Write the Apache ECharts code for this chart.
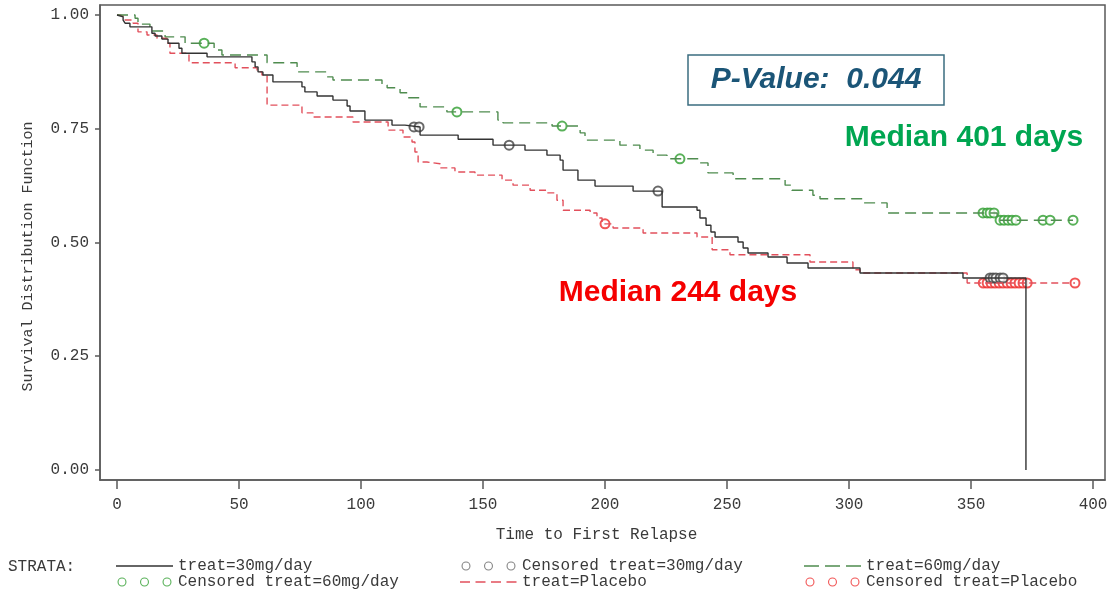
<!DOCTYPE html>
<html>
<head>
<meta charset="utf-8">
<title>Time to First Relapse</title>
<script src="https://cdn.jsdelivr.net/npm/echarts@6/dist/echarts.min.js"></script>
<style>
  html, body { margin: 0; padding: 0; background: #fff; }
  #chart { width: 1112px; height: 596px; }
</style>
</head>
<body>
<div id="chart"></div>
<script>
// tick labels
const xTicks = [0, 50, 100, 150, 200, 250, 300, 350, 400]
const yTicks = [0, 0.25, 0.5, 0.75, 1]

// treat=30mg/day (Kaplan-Meier steps)
const t30 = [0, 0.8, 2.5, 3.3, 5.3, 14.3, 15.6, 18.4, 20.9, 25.4, 26.6, 36.9, 55.3, 56.6, 57.8, 59.8, 63.9, 75.8, 77.0, 82.0,
  88.5, 94.3, 95.5, 101.6, 112.7, 118.0, 124.2, 139.8, 154.1, 167.2, 176.2, 181.6, 182.8, 188.9, 195.9, 211.5, 223.4, 237.7, 238.9, 241.4,
  243.4, 245.1, 254.5, 256.6, 258.6, 266.8, 274.6, 283.2, 304.5, 346.7, 372.5]
const s30 = [1.0, 0.996, 0.989, 0.982, 0.974, 0.960, 0.954, 0.947, 0.938, 0.927, 0.916, 0.908, 0.897, 0.886, 0.875, 0.868, 0.853, 0.842, 0.831, 0.822,
  0.813, 0.800, 0.789, 0.769, 0.758, 0.754, 0.736, 0.727, 0.714, 0.703, 0.692, 0.681, 0.659, 0.637, 0.624, 0.613, 0.578, 0.571, 0.554, 0.538,
  0.523, 0.512, 0.501, 0.488, 0.477, 0.468, 0.455, 0.444, 0.433, 0.422, 0]
const c30T = [121.7, 123.8, 160.7, 221.7, 357.8, 359.0, 360.2, 361.9, 363.1]
const c30S = [0.754, 0.754, 0.714, 0.613, 0.422, 0.422, 0.422, 0.422, 0.422]

// treat=60mg/day
const t60 = [0, 7.4, 8.6, 13.5, 19.7, 27.9, 39.8, 43.0, 61.5, 73.8, 86.1, 88.5, 108.6, 110.7, 116.0, 119.3, 124.2, 135.2, 156.1, 158.2,
  178.3, 189.8, 191.8, 206.1, 214.3, 219.7, 225.4, 238.9, 242.2, 252.5, 273.8, 276.6, 285.2, 288.1, 305.7, 315.6, 360.7, 391.8]
const s60 = [1.0, 0.993, 0.980, 0.965, 0.952, 0.938, 0.923, 0.912, 0.895, 0.875, 0.864, 0.857, 0.846, 0.840, 0.829, 0.818, 0.798, 0.787, 0.769, 0.763,
  0.756, 0.741, 0.725, 0.714, 0.703, 0.692, 0.684, 0.675, 0.653, 0.640, 0.626, 0.615, 0.604, 0.596, 0.587, 0.565, 0.549, 0.549]
const c60T = [35.7, 139.3, 182.4, 230.7, 354.9, 356.6, 357.8, 359.4, 361.9, 363.5, 365.2, 366.8, 368.4, 379.5, 382.4, 391.8]
const c60S = [0.938, 0.787, 0.756, 0.684, 0.565, 0.565, 0.565, 0.565, 0.549, 0.549, 0.549, 0.549, 0.549, 0.549, 0.549, 0.549]

// treat=Placebo
const tP = [0, 1.2, 3.3, 6.6, 8.6, 12.3, 16.4, 20.5, 21.7, 29.5, 48.4, 57.4, 59.4, 61.5, 75.8, 80.3, 96.7, 111.1, 117.2, 120.9,
  122.1, 123.4, 127.0, 132.4, 138.5, 146.7, 157.8, 162.3, 169.3, 176.2, 180.3, 182.8, 193.9, 196.7, 198.8, 203.3, 215.6, 237.7, 243.9, 251.2,
  284.0, 301.6, 304.5, 348.4, 392.6]
const sP = [1.0, 0.996, 0.989, 0.982, 0.963, 0.956, 0.949, 0.938, 0.916, 0.895, 0.884, 0.875, 0.868, 0.802, 0.785, 0.776, 0.765, 0.747, 0.732, 0.721,
  0.699, 0.677, 0.673, 0.664, 0.655, 0.648, 0.637, 0.626, 0.615, 0.609, 0.593, 0.571, 0.565, 0.554, 0.541, 0.532, 0.521, 0.512, 0.484, 0.473,
  0.457, 0.440, 0.433, 0.411, 0.411]
const cPT = [200.0, 355.0, 356.6, 358.2, 359.8, 361.5, 363.1, 364.8, 366.4, 368.0, 369.7, 371.3, 373.0, 392.6]
const cPS = [0.541, 0.411, 0.411, 0.411, 0.411, 0.411, 0.411, 0.411, 0.411, 0.411, 0.411, 0.411, 0.411, 0.411]

const zip = (a, b) => a.map((v, i) => [v, b[i]])

const MONO = '"Liberation Mono", "DejaVu Sans Mono", monospace'
const TXT = '#3a3a3a'
const AXIS = '#5a5a5a'
const BLACK = '#333333'
const GREEN = '#4f8c4f'
const GREEN_C = '#2f9e2f'
const RED = '#e2505c'
const RED_C = '#ee2a2a'

// legend icons (57 x 12 box)
const ICON_SOLID = 'path://M0,0M57,12M0,5.3H57V6.7H0Z'
const ICON_GREEN_DASH = 'path://M0,0M57,12M0,5.3h15v1.4h-15zM21,5.3h15v1.4h-15zM42,5.3h15v1.4h-15z'
const ICON_RED_DASH = 'path://M0,0M57,12M0,5.3h10v1.4h-10zM15.5,5.3h10v1.4h-10zM31,5.3h10v1.4h-10zM46.5,5.3h10v1.4h-10z'
const ring = cx => 'M' + (cx - 4.5) + ',6A4.5,4.5 0 1,1 ' + (cx + 4.5) + ',6A4.5,4.5 0 1,1 ' + (cx - 4.5) + ',6Z' +
  'M' + (cx - 3.4) + ',6A3.4,3.4 0 1,0 ' + (cx + 3.4) + ',6A3.4,3.4 0 1,0 ' + (cx - 3.4) + ',6Z'
const ICON_RINGS = 'path://M0,0M57,12' + ring(6) + ring(28.5) + ring(51)

function legendAt(name, icon, color, left, top) {
  return {
    left: left, top: top, padding: 0, itemWidth: 57, itemHeight: 12, selectedMode: false,
    textStyle: { fontFamily: MONO, fontSize: 16, color: TXT },
    data: [{ name: name, icon: icon, itemStyle: { color: color, borderWidth: 0 } }]
  }
}

const chart = echarts.init(document.getElementById('chart'))

const option = {
  backgroundColor: '#fff',
  animation: false,
  grid: {
    left: 100, right: 7, top: 5, bottom: 116,
    show: true, borderColor: AXIS, borderWidth: 1.5, backgroundColor: 'transparent'
  },
  xAxis: {
    type: 'value', min: -6.97, max: 404.9,
    name: 'Time to First Relapse', nameLocation: 'middle', nameGap: 47,
    nameTextStyle: { fontFamily: MONO, fontSize: 16, color: TXT, padding: [0, 12, 0, 0] },
    axisLine: { onZero: false, lineStyle: { color: AXIS, width: 1.5 } },
    axisTick: { show: true, customValues: xTicks, length: 9, lineStyle: { color: AXIS, width: 1.5 } },
    axisLabel: { customValues: xTicks, margin: 17, fontFamily: MONO, fontSize: 16, color: TXT },
    splitLine: { show: false }
  },
  yAxis: {
    type: 'value', min: -0.022, max: 1.022,
    name: 'Survival Distribution Function', nameLocation: 'middle', nameGap: 64,
    nameTextStyle: { fontFamily: MONO, fontSize: 15, color: TXT, padding: [0, 28, 0, 0] },
    axisLine: { show: true, onZero: false, lineStyle: { color: AXIS, width: 1.5 } },
    axisTick: { show: true, customValues: yTicks, length: 5, lineStyle: { color: AXIS, width: 1.5 } },
    axisLabel: {
      customValues: yTicks, margin: 11, fontFamily: MONO, fontSize: 16, color: TXT,
      formatter: v => v.toFixed(2)
    },
    splitLine: { show: false }
  },
  legend: [
    legendAt('treat=30mg/day', ICON_SOLID, BLACK, 116, 558),
    legendAt('Censored treat=30mg/day', ICON_RINGS, '#666', 460, 558),
    legendAt('treat=60mg/day', ICON_GREEN_DASH, GREEN, 804, 558),
    legendAt('Censored treat=60mg/day', ICON_RINGS, GREEN_C, 116, 574),
    legendAt('treat=Placebo', ICON_RED_DASH, RED, 460, 574),
    legendAt('Censored treat=Placebo', ICON_RINGS, RED_C, 804, 574)
  ],
  graphic: [
    {
      type: 'text', left: 8, top: 559,
      style: { text: 'STRATA:', font: '16px ' + MONO, fill: TXT }
    },
    {
      type: 'rect', shape: { x: 688, y: 55, width: 256, height: 50 },
      style: { fill: '#fff', stroke: '#3b6d80', lineWidth: 1.5 }, z: 10
    },
    {
      type: 'text', x: 816, y: 80, z: 11,
      style: {
        text: 'P-Value:  0.044', align: 'center', verticalAlign: 'middle',
        font: 'italic bold 30px "Liberation Sans", Arial, sans-serif', fill: '#1b5577'
      }
    },
    {
      type: 'text', x: 964, y: 138, z: 11,
      style: {
        text: 'Median 401 days', align: 'center', verticalAlign: 'middle',
        font: 'bold 30px "Liberation Sans", Arial, sans-serif', fill: '#00a651'
      }
    },
    {
      type: 'text', x: 678, y: 293, z: 11,
      style: {
        text: 'Median 244 days', align: 'center', verticalAlign: 'middle',
        font: 'bold 30px "Liberation Sans", Arial, sans-serif', fill: '#f50000'
      }
    }
  ],
  series: [
    {
      name: 'treat=Placebo', type: 'line', step: 'end', showSymbol: false, color: RED,
      lineStyle: { color: RED, width: 1.4, type: [7, 4] },
      data: zip(tP, sP)
    },
    {
      name: 'treat=60mg/day', type: 'line', step: 'end', showSymbol: false, color: GREEN,
      lineStyle: { color: GREEN, width: 1.4, type: [11, 6] },
      data: zip(t60, s60)
    },
    {
      name: 'treat=30mg/day', type: 'line', step: 'end', showSymbol: false, color: BLACK,
      lineStyle: { color: BLACK, width: 1.4 },
      data: zip(t30, s30)
    },
    {
      name: 'Censored treat=Placebo', type: 'scatter', symbol: 'emptyCircle', symbolSize: 9,
      itemStyle: { color: RED_C, borderWidth: 1.2 },
      data: zip(cPT, cPS)
    },
    {
      name: 'Censored treat=60mg/day', type: 'scatter', symbol: 'emptyCircle', symbolSize: 9,
      itemStyle: { color: GREEN_C, borderWidth: 1.2 },
      data: zip(c60T, c60S)
    },
    {
      name: 'Censored treat=30mg/day', type: 'scatter', symbol: 'emptyCircle', symbolSize: 9,
      itemStyle: { color: '#444', borderWidth: 1.2 },
      data: zip(c30T, c30S)
    }
  ]
}

chart.setOption(option)
</script>
</body>
</html>
